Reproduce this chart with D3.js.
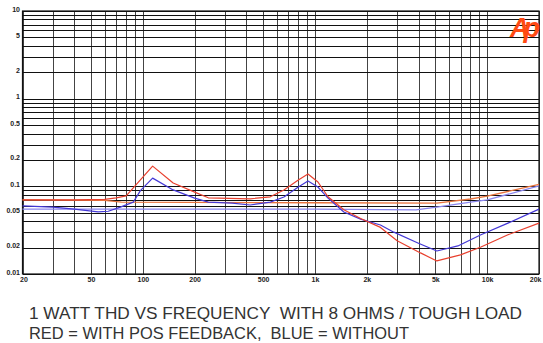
<!DOCTYPE html>
<html><head><meta charset="utf-8">
<script src="https://cdn.jsdelivr.net/npm/d3@7"></script>
<style>
html,body{margin:0;padding:0;background:#fff;}
svg{display:block;}
</style></head>
<body>
<svg id="c" width="543" height="343"></svg>
<script>
// ---- data ----
const xTicks = [20, 50, 100, 200, 500, 1000, 2000, 5000, 10000, 20000];
const xTickLabels = ["20", "50", "100", "200", "500", "1k", "2k", "5k", "10k", "20k"];
const yTicks = [0.01, 0.02, 0.05, 0.1, 0.2, 0.5, 1, 2, 5, 10];
const yTickLabels = ["0.01", "0.02", "0.05", "0.1", "0.2", "0.5", "1", "2", "5", "10"];

const redFreq = [20, 40, 60, 70, 80, 114, 150, 200, 240, 420, 550, 660, 800, 910, 1040, 1190, 1470, 1840, 2400, 3000, 4100, 5100, 7000, 9200, 13200, 20000];
const redThd  = [0.070, 0.070, 0.071, 0.074, 0.078, 0.170, 0.109, 0.086, 0.074, 0.072, 0.076, 0.091, 0.118, 0.138, 0.112, 0.076, 0.054, 0.043, 0.034, 0.024, 0.0174, 0.0141, 0.0165, 0.0203, 0.028, 0.038];

const blueFreq = [20, 30, 40, 55, 63, 74, 88, 97, 114, 150, 200, 240, 330, 420, 550, 660, 800, 910, 1040, 1190, 1470, 1840, 2400, 2870, 3960, 5100, 6760, 9200, 13200, 20000];
const blueThd  = [0.060, 0.058, 0.055, 0.051, 0.052, 0.058, 0.066, 0.090, 0.124, 0.091, 0.0733, 0.066, 0.0645, 0.0612, 0.066, 0.0756, 0.098, 0.115, 0.098, 0.0735, 0.051, 0.0423, 0.0362, 0.030, 0.0226, 0.0183, 0.0209, 0.028, 0.038, 0.055];

const red2Freq = [20, 60, 75, 1000, 5100, 8000, 10000, 20000];
const red2Thd  = [0.070, 0.069, 0.066, 0.065, 0.0645, 0.0717, 0.0774, 0.105];

const blue2Freq = [20, 1000, 3860, 5100, 8000, 10000, 20000];
const blue2Thd  = [0.055, 0.055, 0.054, 0.058, 0.066, 0.070, 0.101];

const titleLines = ["1 WATT THD VS FREQUENCY  WITH 8 OHMS / TOUGH LOAD", "RED = WITH POS FEEDBACK,  BLUE = WITHOUT"];

// ---- drawing ----
const svg = d3.select("#c");
const L = 22.5, R = 539, T = 11, B = 274;
const x = d3.scaleLog().domain([20, 20000]).range([L, R]);
const y = d3.scaleLog().domain([0.01, 10]).range([B, T]);

const gridX = [];
[10, 100, 1000, 10000].forEach(d => { for (let k = 1; k <= 9; k++) { const v = d * k; if (v >= 20 && v <= 20000) gridX.push(v); } });
const gridY = [];
[0.01, 0.1, 1].forEach(d => { for (let k = 1; k <= 10; k++) gridY.push(+(d * k).toPrecision(3)); });

const gx = svg.append("g").attr("transform", `translate(0,${B})`)
  .call(d3.axisBottom(x).tickValues(gridX).tickSize(-(B - T)).tickFormat(""));
gx.select(".domain").remove();
gx.selectAll("line").attr("stroke", "#444").attr("stroke-width", 1).attr("shape-rendering", "crispEdges");

const gy = svg.append("g").attr("transform", `translate(${L},0)`)
  .call(d3.axisLeft(y).tickValues(gridY).tickSize(-(R - L)).tickFormat(""));
gy.select(".domain").remove();
gy.selectAll("line").attr("stroke", "#111").attr("stroke-width", 1).attr("shape-rendering", "crispEdges");

svg.append("rect").attr("x", L).attr("y", T).attr("width", R - L).attr("height", B - T)
  .attr("fill", "none").attr("stroke", "#111").attr("stroke-width", 1.2);

// tick labels
const xl = svg.append("g").attr("transform", `translate(0,${B + 8})`)
  .call(d3.axisBottom(x).tickValues(xTicks).tickSize(0).tickFormat((d, i) => xTickLabels[i]));
xl.select(".domain").remove();
xl.selectAll("text").attr("font-family", "Liberation Sans, Arial, sans-serif").attr("font-size", 7)
  .attr("font-weight", "bold").attr("fill", "#222").attr("dy", 0).attr("y", 0)
  .attr("text-anchor", (d, i) => i === xTicks.length - 1 ? "end" : "middle")
  .attr("dx", (d, i) => i === xTicks.length - 1 ? 2 : (i === 0 ? 1 : 0));

const yl = svg.append("g").attr("transform", `translate(20,0)`)
  .call(d3.axisLeft(y).tickValues(yTicks).tickSize(0).tickFormat((d, i) => yTickLabels[i]));
yl.select(".domain").remove();
yl.selectAll("text").attr("font-family", "Liberation Sans, Arial, sans-serif").attr("font-size", 7)
  .attr("font-weight", "bold").attr("fill", "#222").attr("x", 0).attr("dy", "0").attr("text-anchor", "end");

// series
const line = d3.line().x(d => x(d[0])).y(d => y(d[1]));
function series(fs, vs, color, w) {
  svg.append("path").datum(fs.map((f, i) => [f, vs[i]]))
    .attr("d", line).attr("fill", "none").attr("stroke", color).attr("stroke-width", w)
    .attr("stroke-linejoin", "round");
}
series(blue2Freq, blue2Thd, "#8a86ee", 1.3);
series(red2Freq, red2Thd, "#e8743e", 1.3);
series(blueFreq, blueThd, "#4438d6", 1.2);
series(redFreq, redThd, "#e8402e", 1.2);

// logo
svg.append("text").attr("x", 510).attr("y", 37)
  .attr("font-family", "Liberation Sans, Arial, sans-serif").attr("font-size", 27)
  .attr("font-weight", "bold").attr("font-style", "italic").attr("fill", "#ff4a12")
  .attr("letter-spacing", -6).text("Ap");

// caption
const capLen = [493, 380];
svg.selectAll("text.cap").data(titleLines).enter().append("text").attr("class", "cap")
  .attr("x", 29).attr("y", (d, i) => 319 + i * 20)
  .attr("font-family", "Liberation Sans, Arial, sans-serif").attr("font-size", 17)
  .attr("fill", "#333").style("white-space", "pre").attr("xml:space", "preserve")
  .attr("textLength", (d, i) => capLen[i]).attr("lengthAdjust", "spacingAndGlyphs")
  .text(d => d);
</script>
</body></html>
